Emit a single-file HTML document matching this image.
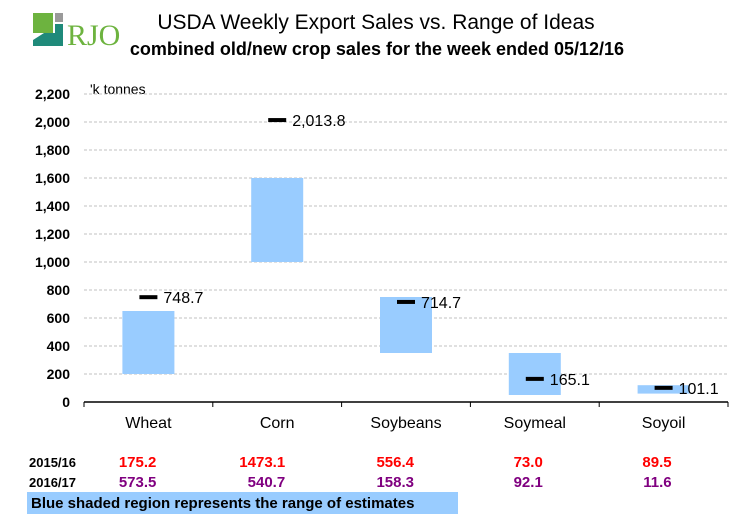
<!DOCTYPE html>
<html><head><meta charset="utf-8"><style>
body{margin:0;background:#fff;}
svg{display:block;font-family:"Liberation Sans",Arial,sans-serif;}
</style></head><body>
<svg id="chart" width="756" height="516" viewBox="0 0 756 516">
<g>
<rect x="33" y="13" width="20" height="20" fill="#6db33f"/>
<rect x="55" y="13" width="8" height="9" fill="#9a9a9a"/>
<polygon points="33,46 63,46 63,24 55,24 55,33 44,33 33,40" fill="#1f8a7a"/>
<text x="67" y="45" font-family="Liberation Serif,serif" font-size="30" fill="#6db33f">RJO</text>
</g>
<text x="376" y="29" text-anchor="middle" font-size="21">USDA Weekly Export Sales vs. Range of Ideas</text>
<text x="377" y="55" text-anchor="middle" font-size="18" font-weight="bold">combined old/new crop sales for the week ended 05/12/16</text>
<text x="90" y="94" font-size="14">'k tonnes</text>
<g id="grid"></g><g id="bars"></g><g id="axes"></g><g id="table"></g>
<rect x="27" y="492" width="431" height="22" fill="#99ccff"/>
<text x="31" y="508" font-size="15" font-weight="bold">Blue shaded region represents the range of estimates</text>
</svg>
<script>
const categories=["Wheat","Corn","Soybeans","Soymeal","Soyoil"];
const rangeLow=[200,1000,350,50,60];
const rangeHigh=[650,1600,750,350,120];
const actual=[748.7,2013.8,714.7,165.1,101.1];
const actualLabels=["748.7","2,013.8","714.7","165.1","101.1"];
const yTicks=[0,200,400,600,800,1000,1200,1400,1600,1800,2000,2200];
const yTickLabels=["0","200","400","600","800","1,000","1,200","1,400","1,600","1,800","2,000","2,200"];
const row1=["175.2","1473.1","556.4","73.0","89.5"];
const row2=["573.5","540.7","158.3","92.1","11.6"];
const NS="http://www.w3.org/2000/svg";
const x0=84,x1=728,yBase=402,yTop=94,yMax=2200;
const cw=(x1-x0)/categories.length;
const y=v=>yBase-(v/yMax)*(yBase-yTop);
const cx=i=>x0+cw*(i+0.5);
function mk(p,t,a){const e=document.createElementNS(NS,t);for(const k in a)e.setAttribute(k,a[k]);document.getElementById(p).appendChild(e);return e;}
yTicks.forEach((v,i)=>{
 if(v>0){const l=mk("grid","line",{x1:x0,x2:x1,y1:y(v),y2:y(v),stroke:"#c0c0c0","stroke-dasharray":"3,2"});
 
 }
 const t=mk("axes","text",{x:70,y:y(v)+5,"text-anchor":"end","font-size":"14","font-weight":"bold"});t.textContent=yTickLabels[i];
 
 
});
const ax=mk("axes","line",{x1:x0,x2:x1,y1:yBase,y2:yBase,stroke:"#000","stroke-width":1.5});


for(let i=0;i<=categories.length;i++){const tk=mk("axes","line",{x1:x0+cw*i,x2:x0+cw*i,y1:yBase,y2:yBase+5,stroke:"#000"});
 
 }
categories.forEach((c,i)=>{
 const b=mk("bars","rect",{x:cx(i)-26,width:52,y:y(rangeHigh[i]),height:y(rangeLow[i])-y(rangeHigh[i]),fill:"#99ccff"});
 
 
 const m=mk("bars","rect",{x:cx(i)-9,width:18,y:y(actual[i])-2,height:4,fill:"#000"});
 
 
 const lt=mk("bars","text",{x:cx(i)+15,y:y(actual[i])+6,"font-size":"16"});lt.textContent=actualLabels[i];
 
 
 const xl=mk("axes","text",{x:cx(i),y:428,"text-anchor":"middle","font-size":"16"});xl.textContent=c;
 
 
 const r1=mk("table","text",{x:cx(i)+8,y:467,"text-anchor":"end","font-size":"15","font-weight":"bold",fill:"#ff0000"});r1.textContent=row1[i];
 
 
 const r2=mk("table","text",{x:cx(i)+8,y:487,"text-anchor":"end","font-size":"15","font-weight":"bold",fill:"#800080"});r2.textContent=row2[i];
 
 
});
[["2015/16",467],["2016/17",487]].forEach(r=>{const t=mk("table","text",{x:29,y:r[1],"font-size":"13","font-weight":"bold"});t.textContent=r[0];
 
 });
</script>
</body></html>
